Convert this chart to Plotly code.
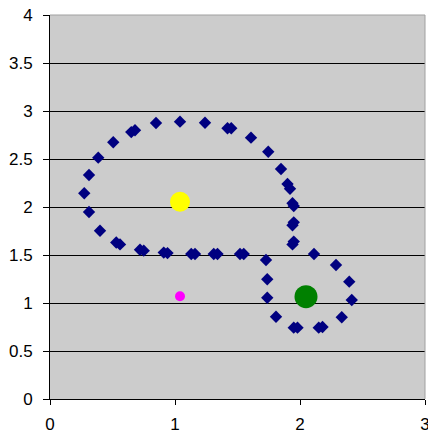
import plotly.graph_objects as go

# Closed curve traced as a string of diamond markers
curve_x = [1.94, 1.95, 1.94, 1.95, 1.95, 1.94, 1.90, 1.92, 1.848, 1.746, 1.608,
           1.45, 1.42, 1.24, 1.04, 0.848, 0.68, 0.65, 0.506, 0.386, 0.312, 0.274,
           0.312, 0.40, 0.53, 0.56, 0.72, 0.75, 0.91, 0.94, 1.13, 1.16, 1.31, 1.34,
           1.52, 1.55, 1.728, 1.738, 1.738, 1.808, 1.95, 1.98, 2.15, 2.18, 2.334,
           2.414, 2.394, 2.288, 2.112]
curve_y = [1.61, 1.64, 1.81, 1.84, 2.01, 2.04, 2.24, 2.19, 2.396, 2.576, 2.722,
           2.82, 2.82, 2.878, 2.889, 2.875, 2.80, 2.78, 2.674, 2.514, 2.333, 2.143,
           1.948, 1.753, 1.63, 1.61, 1.555, 1.545, 1.525, 1.52, 1.51, 1.51, 1.51, 1.51,
           1.51, 1.51, 1.448, 1.247, 1.055, 0.857, 0.743, 0.743, 0.743, 0.75, 0.851,
           1.031, 1.222, 1.396, 1.51]

# Single highlighted points
yellow_pt = (1.04, 2.055)
green_pt = (2.048, 1.066)
magenta_pt = (1.04, 1.07)

x_ticks = [0, 1, 2, 3]
y_ticks = [0, 0.5, 1, 1.5, 2, 2.5, 3, 3.5, 4]
y_tick_text = ["0", "0.5", "1", "1.5", "2", "2.5", "3", "3.5", "4"]

fig = go.Figure()
fig.add_trace(go.Scatter(
    x=curve_x, y=curve_y, mode="markers",
    marker=dict(symbol="diamond", size=9.5, color="#000080", line=dict(width=0)),
))
fig.add_trace(go.Scatter(
    x=[yellow_pt[0]], y=[yellow_pt[1]], mode="markers",
    marker=dict(size=20, color="#FFFF00", line=dict(width=0)),
))
fig.add_trace(go.Scatter(
    x=[green_pt[0]], y=[green_pt[1]], mode="markers",
    marker=dict(size=23, color="#008000", line=dict(width=0)),
))
fig.add_trace(go.Scatter(
    x=[magenta_pt[0]], y=[magenta_pt[1]], mode="markers",
    marker=dict(size=10, color="#FF00FF", line=dict(width=0)),
))

axis_font = dict(family="Liberation Sans, Arial, sans-serif", size=17, color="#000000")

fig.update_layout(
    width=428, height=436,
    margin=dict(l=50, r=3, t=15, b=37),
    paper_bgcolor="#FFFFFF",
    plot_bgcolor="#CCCCCC",
    showlegend=False,
    xaxis=dict(
        range=[0, 3], tickvals=x_ticks, ticktext=[str(v) for v in x_ticks],
        showgrid=False, zeroline=False, automargin=False,
        showline=True, linecolor="#000000", linewidth=1,
        ticks="outside", ticklen=5, tickcolor="#000000", tickwidth=1,
        tickfont=axis_font, ticklabelstandoff=5, ticklabeloverflow="allow",
    ),
    yaxis=dict(
        range=[0, 4], tickvals=y_ticks, ticktext=y_tick_text,
        showgrid=True, gridcolor="#000000", gridwidth=1, zeroline=False,
        automargin=False,
        showline=True, linecolor="#000000", linewidth=1,
        ticks="outside", ticklen=6, tickcolor="#000000", tickwidth=1,
        tickfont=axis_font, ticklabelstandoff=7, ticklabeloverflow="allow",
    ),
    shapes=[
        dict(type="line", xref="paper", yref="paper", x0=0, x1=1, y0=1, y1=1,
             line=dict(color="#A0A0A0", width=1), layer="above"),
        dict(type="line", xref="paper", yref="paper", x0=1, x1=1, y0=0, y1=1,
             line=dict(color="#A0A0A0", width=1), layer="above"),
    ],
)

fig.write_html("out.html")
